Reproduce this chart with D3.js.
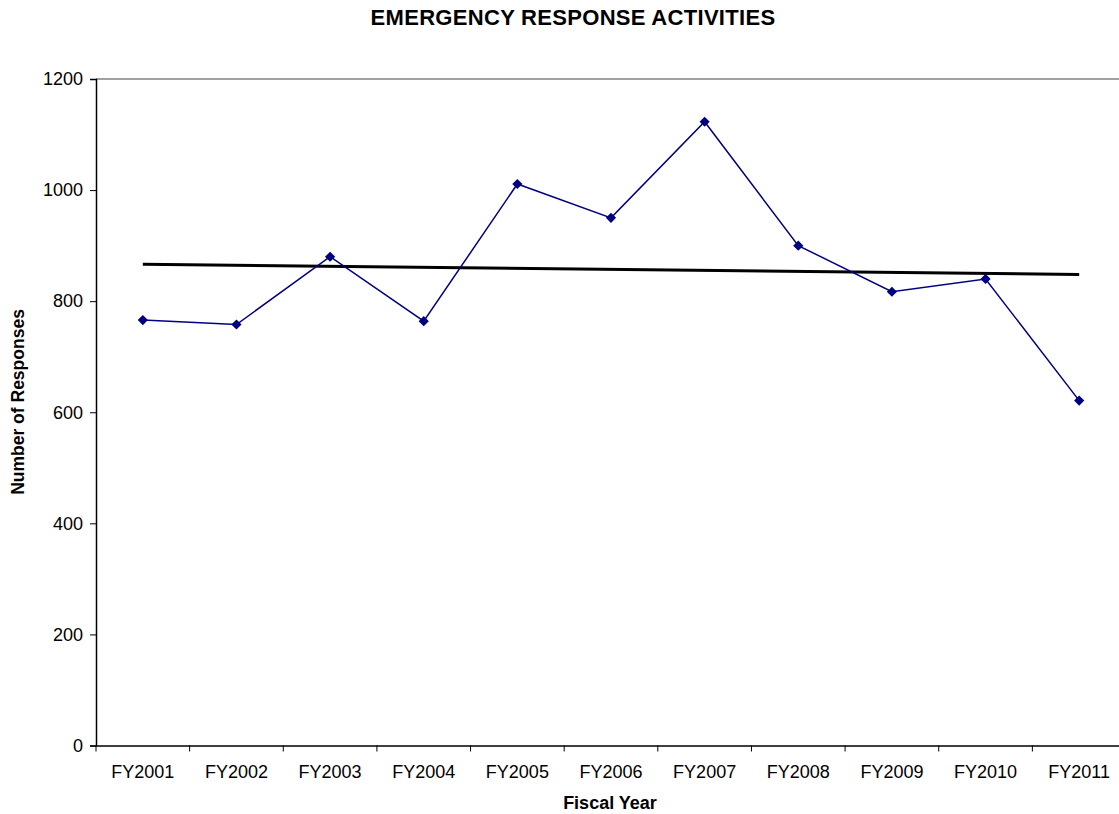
<!DOCTYPE html>
<html>
<head>
<meta charset="utf-8">
<script src="https://cdn.jsdelivr.net/npm/d3@7/dist/d3.min.js"></script>
<style>
  html, body { margin: 0; padding: 0; background: #fff; }
  svg { display: block; font-family: "Liberation Sans", Arial, sans-serif; }
</style>
</head>
<body>
<svg id="chart" width="1119" height="814"></svg>
<script>
// Fiscal years and number of emergency responses
const years = ["FY2001", "FY2002", "FY2003", "FY2004", "FY2005", "FY2006",
               "FY2007", "FY2008", "FY2009", "FY2010", "FY2011"];
const responses = [766, 758, 880, 764, 1011, 950, 1123, 900, 817, 840, 621];
const yTicks = [0, 200, 400, 600, 800, 1000, 1200];

const svg = d3.select("#chart");
const plotLeft = 96, plotRight = 1126, plotTop = 79, plotBottom = 745.5;

const x = d3.scaleBand().domain(years).range([plotLeft, plotRight]);
const y = d3.scaleLinear().domain([0, 1200]).range([plotBottom, plotTop]);
const cx = d => x(d) + x.bandwidth() / 2;

// Plot frame top edge
svg.append("line")
  .attr("x1", plotLeft).attr("x2", plotRight)
  .attr("y1", plotTop).attr("y2", plotTop)
  .attr("stroke", "#808080").attr("stroke-width", 1.5);

// Y axis
const yAxis = svg.append("g")
  .attr("transform", `translate(${plotLeft},0)`)
  .call(d3.axisLeft(y).tickValues(yTicks).tickSize(6).tickPadding(7).tickFormat(d3.format("d")));
yAxis.select(".domain").attr("stroke", "#000").attr("stroke-width", 1.5);
yAxis.selectAll(".tick line").attr("stroke", "#000");
yAxis.selectAll(".tick text").attr("font-size", 18).attr("fill", "#000")
  .attr("font-family", "Liberation Sans, Arial, sans-serif");

// X axis with ticks between categories
const xAxis = svg.append("g")
  .attr("transform", `translate(0,${plotBottom})`)
  .call(d3.axisBottom(x).tickSize(0).tickPadding(20));
xAxis.select(".domain").attr("stroke", "#000").attr("stroke-width", 1.5);
xAxis.selectAll(".tick text").attr("font-size", 18).attr("fill", "#000")
  .attr("font-family", "Liberation Sans, Arial, sans-serif");
xAxis.selectAll(".sep")
  .data(years)
  .enter().append("line")
  .attr("class", "sep")
  .attr("x1", d => x(d)).attr("x2", d => x(d))
  .attr("y1", 0).attr("y2", 6)
  .attr("stroke", "#000").attr("stroke-width", 1);

// Linear trend line (least squares fit over the series)
const n = responses.length;
const xs = d3.range(1, n + 1);
const mx = d3.mean(xs), my = d3.mean(responses);
const slope = d3.sum(xs, (v, i) => (v - mx) * (responses[i] - my)) /
              d3.sum(xs, v => (v - mx) * (v - mx));
const icpt = my - slope * mx;
svg.append("line")
  .attr("x1", cx(years[0])).attr("x2", cx(years[n - 1]))
  .attr("y1", y(icpt + slope * 1)).attr("y2", y(icpt + slope * n))
  .attr("stroke", "#000").attr("stroke-width", 3);

// Series line
const line = d3.line().x((d, i) => cx(years[i])).y(d => y(d));
svg.append("path")
  .datum(responses)
  .attr("d", line)
  .attr("fill", "none")
  .attr("stroke", "#000080")
  .attr("stroke-width", 1.5);

// Diamond markers
const diamond = d3.symbol().type(d3.symbolDiamond2).size(66);
svg.selectAll(".pt")
  .data(responses)
  .enter().append("path")
  .attr("class", "pt")
  .attr("d", diamond)
  .attr("transform", (d, i) => `translate(${cx(years[i])},${y(d)})`)
  .attr("fill", "#000080");

// Titles
svg.append("text")
  .attr("x", 573).attr("y", 25)
  .attr("text-anchor", "middle")
  .attr("font-size", 22).attr("font-weight", "bold")
  .attr("letter-spacing", 0.3)
  .text("EMERGENCY RESPONSE ACTIVITIES");

svg.append("text")
  .attr("x", 610).attr("y", 809)
  .attr("text-anchor", "middle")
  .attr("font-size", 18).attr("font-weight", "bold")
  .text("Fiscal Year");

svg.append("text")
  .attr("transform", "translate(24,402) rotate(-90)")
  .attr("text-anchor", "middle")
  .attr("font-size", 17.5).attr("font-weight", "bold")
  .text("Number of Responses");
</script>
</body>
</html>
